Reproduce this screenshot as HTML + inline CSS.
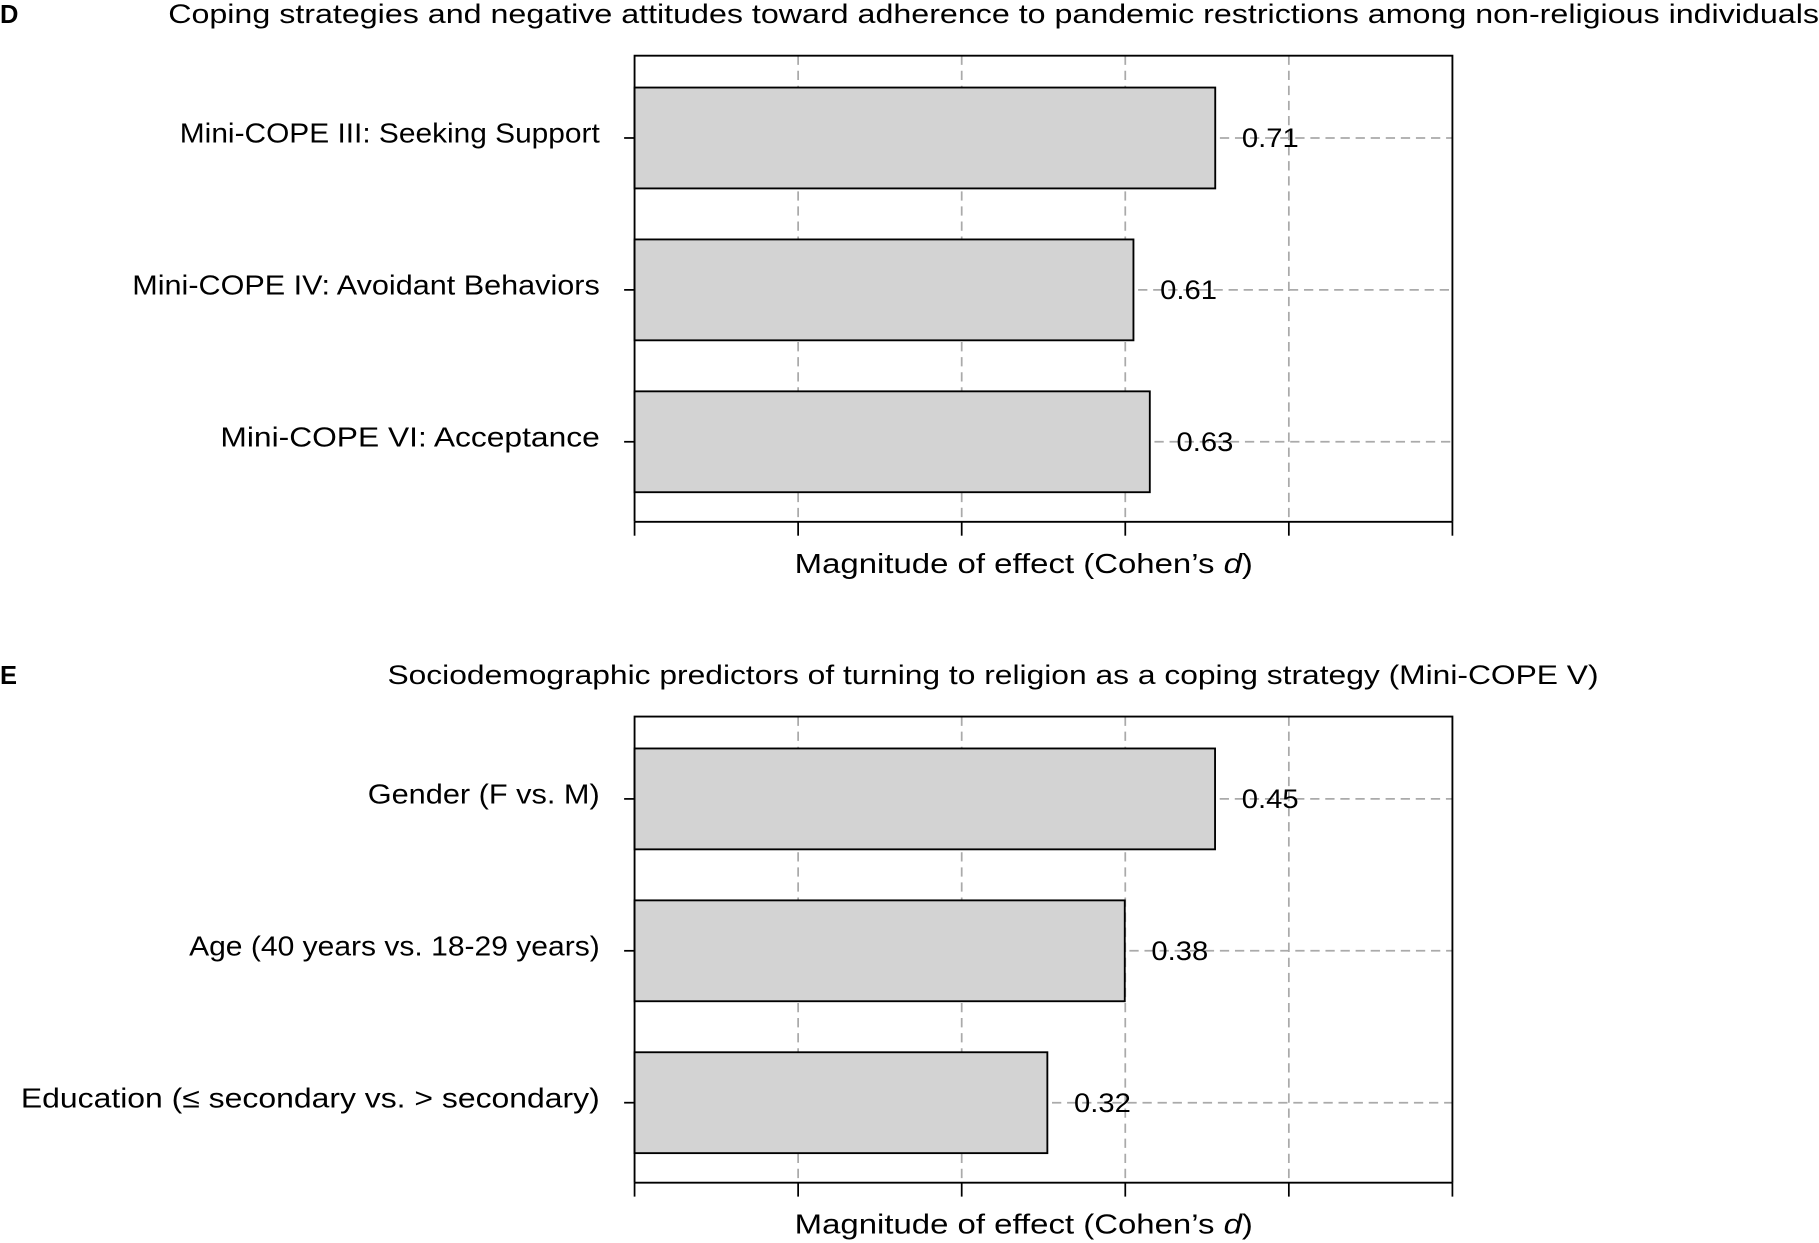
<!DOCTYPE html>
<html><head><meta charset="utf-8"><style>
html,body{margin:0;padding:0;background:#fff;}
svg{display:block;font-family:"Liberation Sans",sans-serif;}
</style></head><body>
<svg id="chart" width="1819" height="1243" viewBox="0 0 1568 1072" preserveAspectRatio="none" xmlns="http://www.w3.org/2000/svg"></svg>
<script>
const catsD = ["Mini-COPE III: Seeking Support","Mini-COPE IV: Avoidant Behaviors","Mini-COPE VI: Acceptance"];
const valsD = [0.71, 0.61, 0.63];
const labelsD = ["0.71","0.61","0.63"];
const catsE = ["Gender (F vs. M)","Age (40 years vs. 18-29 years)","Education (\u2264 secondary vs. > secondary)"];
const valsE = [0.45, 0.38, 0.32];
const labelsE = ["0.45","0.38","0.32"];

// layout only: rendered widths of category labels (match reference typeface width)
const labelWidthD = [362, 403, 327];
const labelWidthE = [200, 354, 499];

const NS="http://www.w3.org/2000/svg";
const svg=document.getElementById('chart');
function mk(tag,attrs,parent,text){const e=document.createElementNS(NS,tag);for(const k in attrs)e.setAttribute(k,attrs[k]);if(text!==undefined)e.textContent=text;(parent||svg).appendChild(e);return e;}

function panel(letter,title,titleX,titleLen,top,cats,vals,labels,widths,scaleMax,prefix){
  const g=mk('g',{});
  
  
  const L=mk('text',{x:0,y:top-28,'font-size':22,'font-weight':'bold'},g,letter);
  
  
  const T=mk('text',{x:titleX,y:top-28,'font-size':23,textLength:titleLen,lengthAdjust:'spacingAndGlyphs'},g,title);
  
  
  const x0=547,x1=1252,yb=top+402;
  const x=v=>x0+v/scaleMax*(x1-x0);
  const band=131, bh=87, firstC=top+71;
  for(let i=1;i<5;i++){const gx=x0+i*(x1-x0)/5;
    const gl=mk('line',{x1:gx,y1:top,x2:gx,y2:yb,stroke:'#aaa','stroke-width':1.5,'stroke-dasharray':'8,5'},g);
    
    }
  cats.forEach((c,i)=>{
    const cy=firstC+i*band;
    const xe=x(vals[i]);
    const hl=mk('line',{x1:xe+4,y1:cy,x2:x1,y2:cy,stroke:'#aaa','stroke-width':1.5,'stroke-dasharray':'8,5'},g);
    
    
    const b=mk('rect',{x:x0,y:cy-bh/2,width:xe-x0,height:bh,fill:'#d3d3d3',stroke:'#000','stroke-width':1.6},g);
    
    
    const vl=mk('text',{x:xe+23,y:cy+8,'font-size':23,textLength:49,lengthAdjust:'spacingAndGlyphs'},g,labels[i]);
    
    
    const tk=mk('line',{x1:538,y1:cy,x2:547,y2:cy,stroke:'#000','stroke-width':1.5},g);
    
    
    const cl=mk('text',{x:517-widths[i],y:cy+4,'font-size':24,textLength:widths[i],lengthAdjust:'spacingAndGlyphs'},g,c);
    
    
  });
  const fr=mk('path',{d:`M${x0},${yb} V${top} H${x1} V${yb} M${x0},${yb} H${x1}`,fill:'none',stroke:'#000','stroke-width':1.6},g);
  
  
  for(let i=0;i<=5;i++){const tx=x0+i*(x1-x0)/5;
    const t=mk('line',{x1:tx,y1:yb,x2:tx,y2:yb+12,stroke:'#000','stroke-width':1.5},g);
    
    }
  const at=mk('text',{x:685,y:yb+44,'font-size':24,textLength:395,lengthAdjust:'spacingAndGlyphs'},g);
  
  
  mk('tspan',{},at,'Magnitude of effect (Cohen\u2019s ');
  mk('tspan',{'font-style':'italic'},at,'d');
  mk('tspan',{},at,')');
}
panel('D','Coping strategies and negative attitudes toward adherence to pandemic restrictions among non-religious individuals',145,1423,48,catsD,valsD,labelsD,labelWidthD,1.0,'d');
panel('E','Sociodemographic predictors of turning to religion as a coping strategy (Mini-COPE V)',334,1044,618,catsE,valsE,labelsE,labelWidthE,0.634,'e');
</script>
</body></html>
